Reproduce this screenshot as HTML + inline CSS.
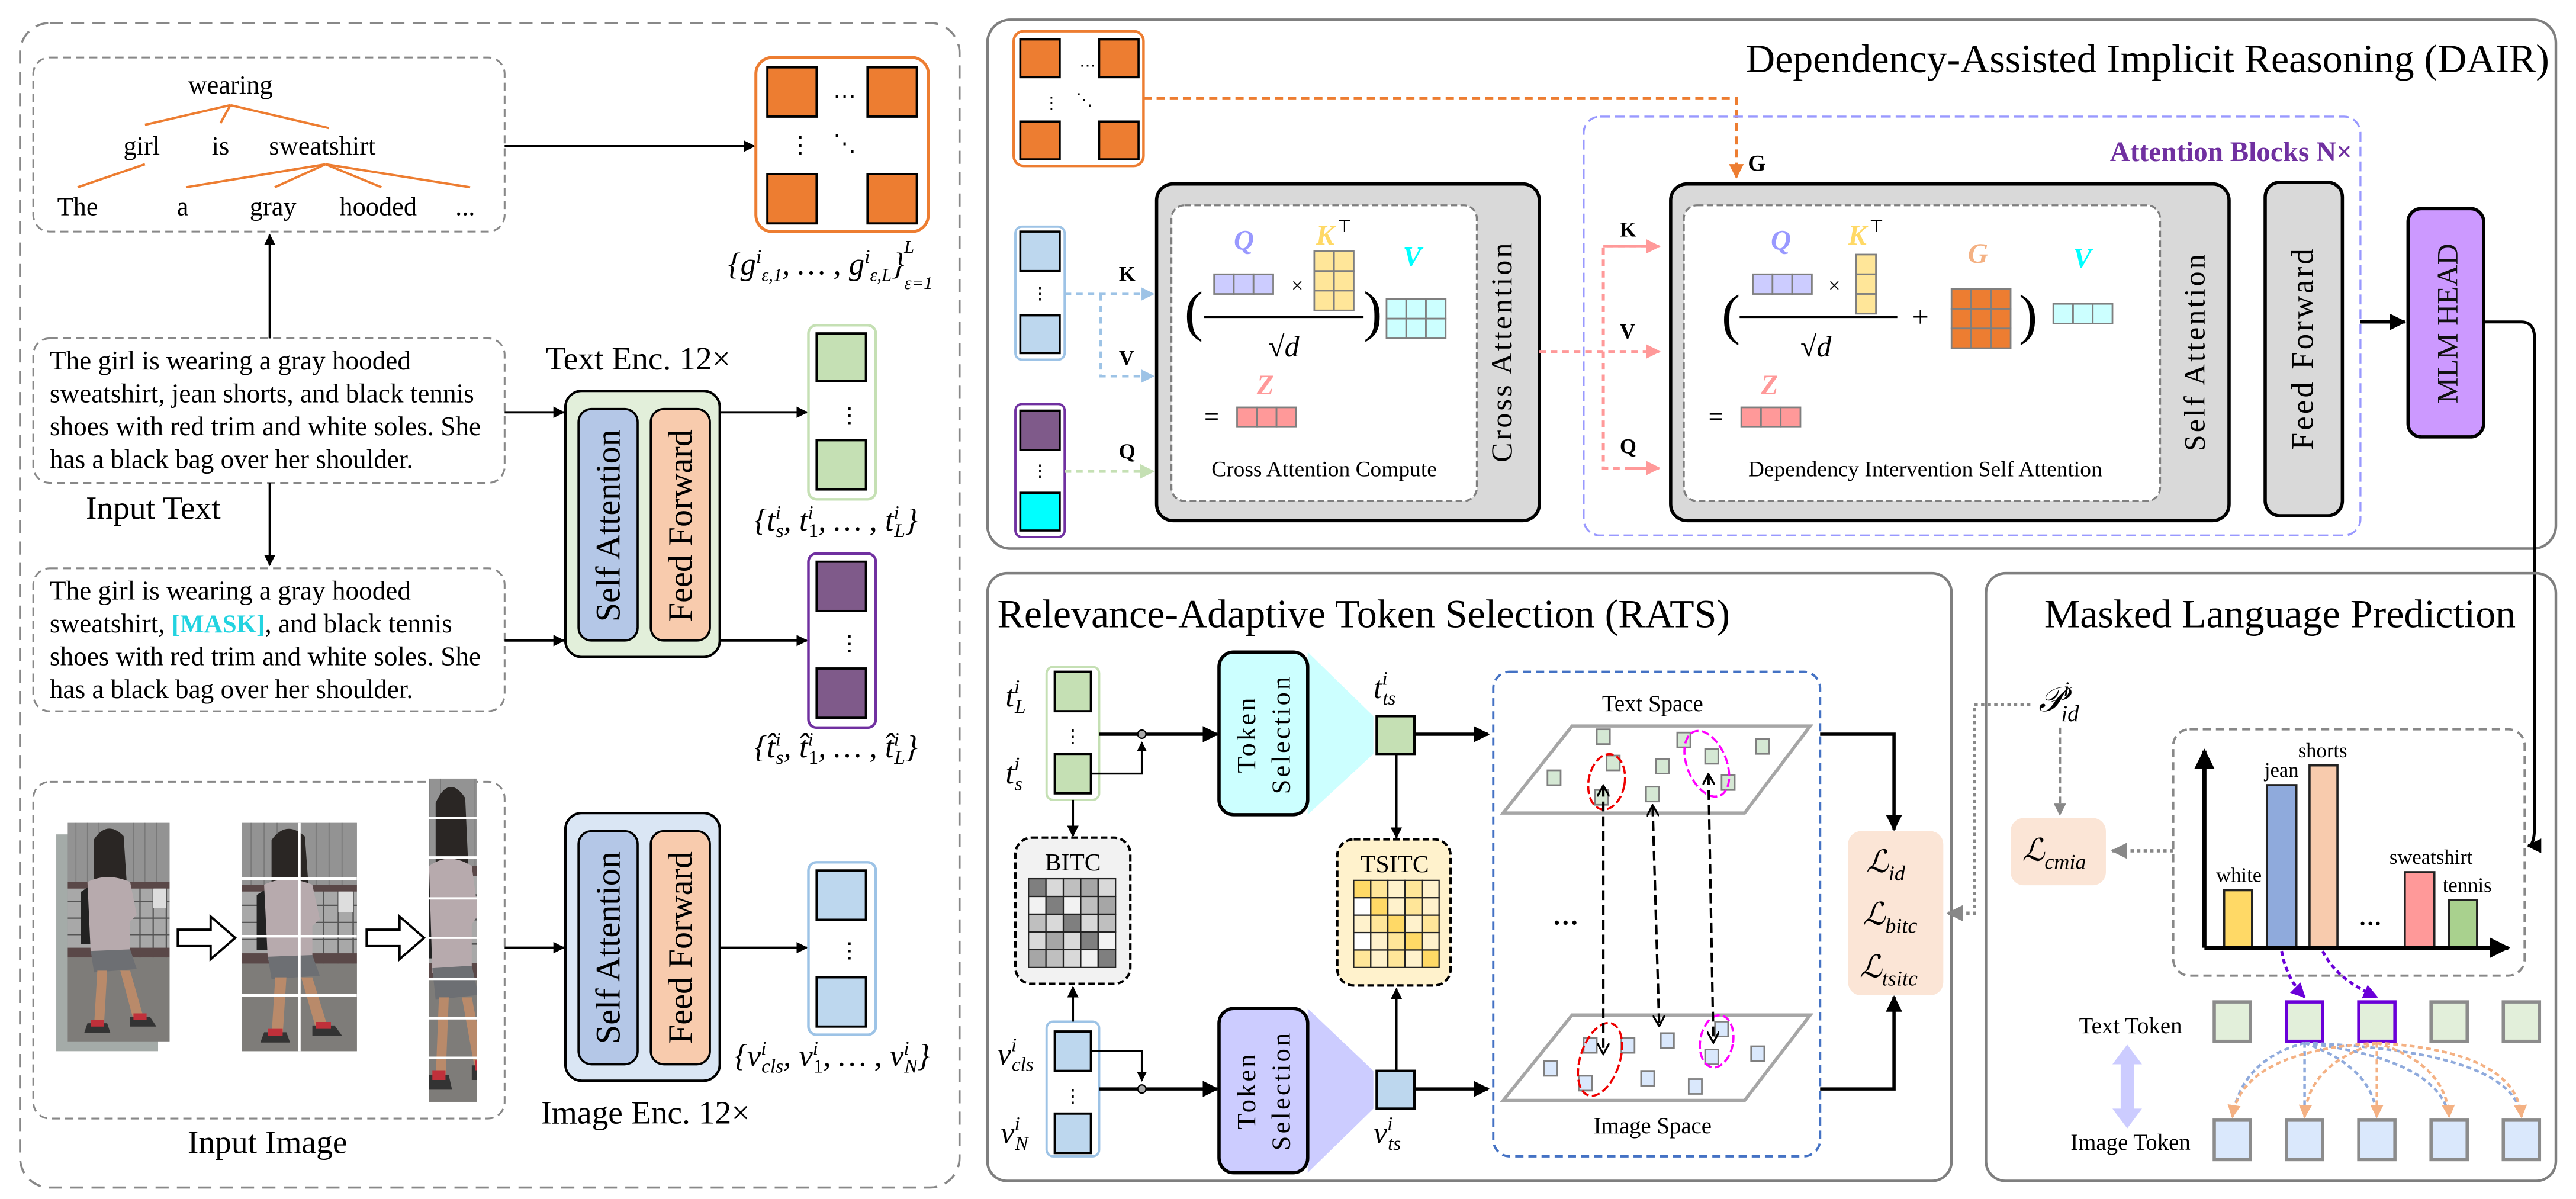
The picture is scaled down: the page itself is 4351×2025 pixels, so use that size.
<!DOCTYPE html>
<html><head><meta charset="utf-8"><style>
html,body{margin:0;padding:0;background:#fff;}
svg{display:block;}
text{font-family:"Liberation Serif",serif;}
</style></head><body>
<svg width="4351" height="2025" viewBox="0 0 1568 730" xmlns="http://www.w3.org/2000/svg">
<defs>
<marker id="ab" viewBox="0 0 10 10" refX="9" refY="5" markerWidth="5" markerHeight="5" orient="auto-start-reverse"><path d="M0,0L10,5L0,10z" fill="#000"/></marker>
<marker id="ao" viewBox="0 0 10 10" refX="9" refY="5" markerWidth="5" markerHeight="5" orient="auto"><path d="M0,0L10,5L0,10z" fill="#ed7d31"/></marker>
<marker id="abl" viewBox="0 0 10 10" refX="9" refY="5" markerWidth="5" markerHeight="5" orient="auto"><path d="M0,0L10,5L0,10z" fill="#9dc3e6"/></marker>
<marker id="agr" viewBox="0 0 10 10" refX="9" refY="5" markerWidth="5" markerHeight="5" orient="auto"><path d="M0,0L10,5L0,10z" fill="#c5e0b4"/></marker>
<marker id="apk" viewBox="0 0 10 10" refX="9" refY="5" markerWidth="5" markerHeight="5" orient="auto"><path d="M0,0L10,5L0,10z" fill="#ff9999"/></marker>
<marker id="agy" viewBox="0 0 10 10" refX="9" refY="5" markerWidth="5" markerHeight="5" orient="auto"><path d="M0,0L10,5L0,10z" fill="#888"/></marker>
<marker id="apu" viewBox="0 0 10 10" refX="9" refY="5" markerWidth="5" markerHeight="5" orient="auto"><path d="M0,0L10,5L0,10z" fill="#6a00d8"/></marker>
<marker id="aob" viewBox="0 0 10 10" refX="9" refY="5" markerWidth="5" markerHeight="5" orient="auto"><path d="M0,0L10,5L0,10z" fill="#f4b183"/></marker>
<marker id="av" viewBox="0 0 10 10" refX="8" refY="5" markerWidth="5" markerHeight="5" orient="auto-start-reverse"><path d="M0,0L9,5L0,10" fill="none" stroke="#000" stroke-width="1.6"/></marker>
<g id="person">
<rect x="0" y="0" width="62" height="133" fill="#8a8a8a"/>
<rect x="0" y="0" width="62" height="38" fill="#939393"/>
<g stroke="#7a7a7a" stroke-width="0.6"><line x1="5" y1="0" x2="5" y2="38"/><line x1="12" y1="0" x2="12" y2="38"/><line x1="19" y1="0" x2="19" y2="38"/><line x1="40" y1="0" x2="40" y2="38"/><line x1="47" y1="0" x2="47" y2="38"/><line x1="54" y1="0" x2="54" y2="38"/></g>
<rect x="0" y="38" width="62" height="44" fill="#a8a8a8"/>
<g stroke="#555" stroke-width="0.8"><line x1="0" y1="48" x2="62" y2="48"/><line x1="0" y1="58" x2="62" y2="58"/><line x1="0" y1="68" x2="62" y2="68"/><line x1="36" y1="38" x2="36" y2="82"/><line x1="44" y1="38" x2="44" y2="82"/><line x1="52" y1="38" x2="52" y2="82"/><line x1="60" y1="38" x2="60" y2="82"/></g>
<rect x="0" y="36" width="62" height="4" fill="#5a4848"/>
<rect x="0" y="76" width="62" height="6" fill="#5a4848"/>
<rect x="0" y="82" width="62" height="51" fill="#7e7c79"/>
<path d="M16,10 q8,-12 18,-2 l2,30 l-20,4 z" fill="#2a2624"/>
<path d="M8,42 l6,-4 l2,36 l-8,0 z" fill="#222"/>
<path d="M12,36 q12,-6 26,0 l4,20 l-4,4 l0,18 l-24,2 z" fill="#b7aaad"/>
<path d="M14,78 l24,-1 l4,12 l-26,2 z" fill="#6d6f73"/>
<path d="M18,90 l6,0 l-2,34 l-6,0 z" fill="#b98a6a"/>
<path d="M32,90 l6,0 l8,28 l-6,2 z" fill="#b98a6a"/>
<path d="M12,122 l12,0 l2,6 l-16,0 z" fill="#333"/><path d="M14,120 l8,0 l0,4 l-8,0z" fill="#c0303a"/>
<path d="M38,118 l12,0 l4,6 l-16,0 z" fill="#333"/><path d="M40,116 l8,0 l0,4 l-8,0z" fill="#c0303a"/>
<rect x="52" y="40" width="8" height="12" fill="#ddd"/>
</g>
<clipPath id="c3"><rect x="0" y="0" width="29" height="197"/></clipPath>
</defs>

<!-- ============ LEFT PANEL ============ -->
<rect x="12" y="14" width="572" height="709" rx="18" fill="none" stroke="#888" stroke-width="1.3" stroke-dasharray="8,5"/>
<rect x="20" y="35" width="287" height="106" rx="10" fill="none" stroke="#888" stroke-width="1.1" stroke-dasharray="5,3"/>
<g stroke="#ed7d31" stroke-width="1.4" fill="none">
<path d="M140,64L88,76M140,64L134,75M140,64L200,78M88,100L47,114M198,100L113,114M198,100L167,114M198,100L232,114M198,100L286,114"/>
</g>
<g font-size="16" text-anchor="middle" fill="#000">
<text x="140" y="57">wearing</text>
<text x="86" y="94">girl</text><text x="134" y="94">is</text><text x="196" y="94">sweatshirt</text>
<text x="47" y="131">The</text><text x="111" y="131">a</text><text x="166" y="131">gray</text><text x="230" y="131">hooded</text><text x="283" y="131">...</text>
</g>
<line x1="307" y1="89" x2="459" y2="89" stroke="#000" stroke-width="1.4" marker-end="url(#ab)"/>
<rect x="460" y="35" width="105" height="106" rx="10" fill="none" stroke="#ed7d31" stroke-width="1.8"/>
<g fill="#ed7d31" stroke="#000" stroke-width="1.4">
<rect x="467" y="41" width="30" height="30"/><rect x="528" y="41" width="30" height="30"/>
<rect x="467" y="106" width="30" height="30"/><rect x="528" y="106" width="30" height="30"/>
</g>
<text x="514" y="63" font-size="14" text-anchor="middle">⋯</text>
<text x="487" y="93" font-size="14" text-anchor="middle">⋮</text>
<text x="514" y="92" font-size="14" text-anchor="middle">⋱</text>
<text x="443" y="167" font-size="19" font-style="italic">{<tspan>g</tspan><tspan font-size="12" dy="-7">i</tspan><tspan font-size="11" dy="11">ε,1</tspan><tspan dy="-4">, … , g</tspan><tspan font-size="12" dy="-7">i</tspan><tspan font-size="11" dy="11">ε,L</tspan><tspan dy="-4">}</tspan><tspan font-size="11" dy="-13">L</tspan><tspan font-size="11" dx="-6" dy="22">ε=1</tspan></text>

<line x1="164" y1="206" x2="164" y2="143" stroke="#000" stroke-width="1.4" marker-end="url(#ab)"/>
<rect x="20" y="206" width="287" height="88" rx="10" fill="none" stroke="#888" stroke-width="1.1" stroke-dasharray="5,3"/>
<g font-size="16.3">
<text x="30" y="225">The girl is wearing a gray hooded</text>
<text x="30" y="245">sweatshirt, jean shorts, and black tennis</text>
<text x="30" y="265">shoes with red trim and white soles. She</text>
<text x="30" y="285">has a black bag over her shoulder.</text>
</g>
<text x="52" y="316" font-size="20">Input Text</text>
<line x1="164" y1="294" x2="164" y2="344" stroke="#000" stroke-width="1.4" marker-end="url(#ab)"/>
<rect x="20" y="346" width="287" height="87" rx="10" fill="none" stroke="#888" stroke-width="1.1" stroke-dasharray="5,3"/>
<g font-size="16.3">
<text x="30" y="365">The girl is wearing a gray hooded</text>
<text x="30" y="385">sweatshirt, <tspan fill="#22d3e0" font-weight="bold" font-size="15.5">[MASK]</tspan>, and black tennis</text>
<text x="30" y="405">shoes with red trim and white soles. She</text>
<text x="30" y="425">has a black bag over her shoulder.</text>
</g>

<text x="332" y="225" font-size="20">Text Enc. 12×</text>
<rect x="344" y="238" width="94" height="162" rx="10" fill="#e2efda" stroke="#000" stroke-width="1.5"/>
<rect x="352" y="249" width="36" height="141" rx="8" fill="#b4c7e7" stroke="#000" stroke-width="1.3"/>
<rect x="396" y="249" width="36" height="141" rx="8" fill="#f8cbad" stroke="#000" stroke-width="1.3"/>
<text transform="translate(377,320) rotate(-90)" font-size="21" text-anchor="middle">Self Attention</text>
<text transform="translate(421,320) rotate(-90)" font-size="21" text-anchor="middle">Feed Forward</text>
<line x1="307" y1="251" x2="343" y2="251" stroke="#000" stroke-width="1.4" marker-end="url(#ab)"/>
<line x1="307" y1="390" x2="343" y2="390" stroke="#000" stroke-width="1.4" marker-end="url(#ab)"/>
<line x1="438" y1="251" x2="491" y2="251" stroke="#000" stroke-width="1.4" marker-end="url(#ab)"/>
<line x1="438" y1="390" x2="491" y2="390" stroke="#000" stroke-width="1.4" marker-end="url(#ab)"/>

<rect x="492" y="198" width="41" height="106" rx="5" fill="#fff" stroke="#c5e0b4" stroke-width="1.6"/>
<rect x="497" y="203" width="30" height="29" fill="#c5e0b4" stroke="#000" stroke-width="1.4"/>
<rect x="497" y="268" width="30" height="30" fill="#c5e0b4" stroke="#000" stroke-width="1.4"/>
<text x="517" y="257" font-size="13" text-anchor="middle">⋮</text>
<text x="459" y="323" font-size="19" font-style="italic">{t<tspan font-size="12" dy="-7">i</tspan><tspan font-size="12" dx="-3" dy="11">s</tspan><tspan dy="-4">, t</tspan><tspan font-size="12" dy="-7">i</tspan><tspan font-size="12" font-style="normal" dx="-3" dy="11">1</tspan><tspan dy="-4">, … , t</tspan><tspan font-size="12" dy="-7">i</tspan><tspan font-size="12" dx="-3" dy="11">L</tspan><tspan dy="-4">}</tspan></text>

<rect x="492" y="337" width="41" height="106" rx="5" fill="#fff" stroke="#7030a0" stroke-width="1.6"/>
<rect x="497" y="342" width="30" height="30" fill="#7f5a8a" stroke="#000" stroke-width="1.4"/>
<rect x="497" y="407" width="30" height="30" fill="#7f5a8a" stroke="#000" stroke-width="1.4"/>
<text x="517" y="396" font-size="13" text-anchor="middle">⋮</text>
<text x="459" y="461" font-size="19" font-style="italic">{t̂<tspan font-size="12" dy="-7">i</tspan><tspan font-size="12" dx="-3" dy="11">s</tspan><tspan dy="-4">, t̂</tspan><tspan font-size="12" dy="-7">i</tspan><tspan font-size="12" font-style="normal" dx="-3" dy="11">1</tspan><tspan dy="-4">, … , t̂</tspan><tspan font-size="12" dy="-7">i</tspan><tspan font-size="12" dx="-3" dy="11">L</tspan><tspan dy="-4">}</tspan></text>

<!-- image box -->
<rect x="20" y="476" width="287" height="205" rx="10" fill="none" stroke="#888" stroke-width="1.1" stroke-dasharray="5,3"/>
<rect x="34" y="508" width="62" height="132" fill="#a4aba8"/>
<use href="#person" transform="translate(41,501)"/>
<use href="#person" transform="translate(147,501) scale(1.13,1.045)"/>
<g stroke="#fff" stroke-width="1.6"><line x1="182" y1="501" x2="182" y2="640"/><line x1="147" y1="535" x2="217" y2="535"/><line x1="147" y1="570" x2="217" y2="570"/><line x1="147" y1="606" x2="217" y2="606"/></g>
<g transform="translate(261,474)"><g clip-path="url(#c3)"><use href="#person" transform="translate(-12,0) scale(1,1.48)"/></g></g>
<g stroke="#fff" stroke-width="1.4"><line x1="261" y1="498" x2="290" y2="498"/><line x1="261" y1="522" x2="290" y2="522"/><line x1="261" y1="547" x2="290" y2="547"/><line x1="261" y1="571" x2="290" y2="571"/><line x1="261" y1="596" x2="290" y2="596"/><line x1="261" y1="620" x2="290" y2="620"/><line x1="261" y1="644" x2="290" y2="644"/></g>
<path d="M108,566h20v-8l15,13l-15,13v-8h-20z" fill="#fff" stroke="#000" stroke-width="1.4"/>
<path d="M223,566h20v-8l15,13l-15,13v-8h-20z" fill="#fff" stroke="#000" stroke-width="1.4"/>
<text x="114" y="702" font-size="20">Input Image</text>

<rect x="344" y="495" width="94" height="163" rx="10" fill="#dae6f4" stroke="#000" stroke-width="1.5"/>
<rect x="352" y="506" width="36" height="142" rx="8" fill="#b4c7e7" stroke="#000" stroke-width="1.3"/>
<rect x="396" y="506" width="36" height="142" rx="8" fill="#f8cbad" stroke="#000" stroke-width="1.3"/>
<text transform="translate(377,577) rotate(-90)" font-size="21" text-anchor="middle">Self Attention</text>
<text transform="translate(421,577) rotate(-90)" font-size="21" text-anchor="middle">Feed Forward</text>
<line x1="307" y1="577" x2="343" y2="577" stroke="#000" stroke-width="1.4" marker-end="url(#ab)"/>
<line x1="438" y1="577" x2="491" y2="577" stroke="#000" stroke-width="1.4" marker-end="url(#ab)"/>
<text x="329" y="684" font-size="20">Image Enc. 12×</text>
<rect x="492" y="525" width="41" height="105" rx="5" fill="#fff" stroke="#9dc3e6" stroke-width="1.6"/>
<rect x="497" y="530" width="30" height="30" fill="#bdd7ee" stroke="#000" stroke-width="1.4"/>
<rect x="497" y="595" width="30" height="30" fill="#bdd7ee" stroke="#000" stroke-width="1.4"/>
<text x="517" y="583" font-size="13" text-anchor="middle">⋮</text>
<text x="447" y="649" font-size="19" font-style="italic">{v<tspan font-size="12" dy="-7">i</tspan><tspan font-size="12" dx="-3" dy="11">cls</tspan><tspan dy="-4">, v</tspan><tspan font-size="12" dy="-7">i</tspan><tspan font-size="12" font-style="normal" dx="-3" dy="11">1</tspan><tspan dy="-4">, … , v</tspan><tspan font-size="12" dy="-7">i</tspan><tspan font-size="12" dx="-3" dy="11">N</tspan><tspan dy="-4">}</tspan></text>

<!-- ============ DAIR ============ -->
<rect x="601" y="12" width="955" height="322" rx="14" fill="none" stroke="#7f7f7f" stroke-width="1.6"/>
<text x="1552" y="44" font-size="24.5" text-anchor="end">Dependency-Assisted Implicit Reasoning (DAIR)</text>
<rect x="617" y="19" width="79" height="82" rx="6" fill="#fff" stroke="#ed7d31" stroke-width="1.6"/>
<g fill="#ed7d31" stroke="#000" stroke-width="1.3">
<rect x="621" y="24" width="24" height="23"/><rect x="669" y="24" width="24" height="23"/>
<rect x="621" y="74" width="24" height="23"/><rect x="669" y="74" width="24" height="23"/>
</g>
<text x="657" y="43" font-size="10">⋯</text><text x="635" y="66" font-size="10">⋮</text><text x="655" y="64" font-size="10">⋱</text>
<path d="M696,60H1057V108" fill="none" stroke="#ed7d31" stroke-width="1.8" stroke-dasharray="5,3" marker-end="url(#ao)"/>
<text x="1064" y="104" font-size="14" font-weight="bold">G</text>
<rect x="964" y="71" width="473" height="255" rx="10" fill="none" stroke="#9999ff" stroke-width="1.2" stroke-dasharray="6,3"/>
<text x="1432" y="98" font-size="17" font-weight="bold" fill="#7030a0" text-anchor="end">Attention Blocks N×</text>

<rect x="618" y="138" width="30" height="81" rx="4" fill="#fff" stroke="#9dc3e6" stroke-width="1.4"/>
<rect x="621" y="141" width="24" height="24" fill="#bdd7ee" stroke="#000" stroke-width="1.3"/>
<rect x="621" y="192" width="24" height="23" fill="#bdd7ee" stroke="#000" stroke-width="1.3"/>
<text x="633" y="182" font-size="10" text-anchor="middle">⋮</text>
<rect x="618" y="246" width="30" height="81" rx="4" fill="#fff" stroke="#7030a0" stroke-width="1.4"/>
<rect x="621" y="250" width="24" height="24" fill="#7f5a8a" stroke="#000" stroke-width="1.3"/>
<rect x="621" y="300" width="24" height="23" fill="#00ffff" stroke="#000" stroke-width="1.3"/>
<text x="633" y="290" font-size="10" text-anchor="middle">⋮</text>
<text x="681" y="171" font-size="13" font-weight="bold">K</text>
<text x="681" y="222" font-size="13" font-weight="bold">V</text>
<text x="681" y="279" font-size="13" font-weight="bold">Q</text>
<path d="M648,179H702" fill="none" stroke="#9dc3e6" stroke-width="1.6" stroke-dasharray="4,3" marker-end="url(#abl)"/>
<path d="M670,179V229H702" fill="none" stroke="#9dc3e6" stroke-width="1.6" stroke-dasharray="4,3" marker-end="url(#abl)"/>
<path d="M648,287H702" fill="none" stroke="#c5e0b4" stroke-width="1.8" stroke-dasharray="4,3" marker-end="url(#agr)"/>

<rect x="704" y="112" width="233" height="205" rx="10" fill="#d9d9d9" stroke="#000" stroke-width="2"/>
<rect x="713" y="125" width="186" height="180" rx="8" fill="#fff" stroke="#7f7f7f" stroke-width="1.2" stroke-dasharray="4,2"/>
<text transform="translate(920,214) rotate(-90)" font-size="18" letter-spacing="1.5" text-anchor="middle">Cross Attention</text>
<g font-style="italic" font-weight="bold" font-size="17">
<text x="751" y="152" fill="#9999ff">Q</text><text x="801" y="149" fill="#ffd966">K</text><text x="854" y="162" fill="#00ffff">V</text>
<text x="765" y="240" fill="#ff9999">Z</text>
</g>
<text x="814" y="141" font-size="10">⊤</text>
<g stroke="#7f7f7f" stroke-width="1">
<rect x="739" y="167" width="12" height="12" fill="#ccccff"/><rect x="751" y="167" width="12" height="12" fill="#ccccff"/><rect x="763" y="167" width="12" height="12" fill="#ccccff"/>
<rect x="800" y="153" width="12" height="12" fill="#ffe699"/><rect x="812" y="153" width="12" height="12" fill="#ffe699"/><rect x="800" y="165" width="12" height="12" fill="#ffe699"/><rect x="812" y="165" width="12" height="12" fill="#ffe699"/><rect x="800" y="177" width="12" height="12" fill="#ffe699"/><rect x="812" y="177" width="12" height="12" fill="#ffe699"/>
<rect x="844" y="182" width="12" height="12" fill="#ccffff"/><rect x="856" y="182" width="12" height="12" fill="#ccffff"/><rect x="868" y="182" width="12" height="12" fill="#ccffff"/><rect x="844" y="194" width="12" height="12" fill="#ccffff"/><rect x="856" y="194" width="12" height="12" fill="#ccffff"/><rect x="868" y="194" width="12" height="12" fill="#ccffff"/>
<rect x="753" y="248" width="12" height="12" fill="#ff9999"/><rect x="765" y="248" width="12" height="12" fill="#ff9999"/><rect x="777" y="248" width="12" height="12" fill="#ff9999"/>
</g>
<text x="786" y="178" font-size="13">×</text>
<text x="721" y="201" font-size="34">(</text><text x="830" y="201" font-size="34">)</text>
<line x1="733" y1="193" x2="830" y2="193" stroke="#000" stroke-width="1.3"/>
<text x="772" y="217" font-size="18">√<tspan font-style="italic">d</tspan></text>
<text x="733" y="259" font-size="16" font-weight="bold">=</text>
<text x="806" y="290" font-size="13.5" text-anchor="middle">Cross Attention Compute</text>

<path d="M937,214H1010" fill="none" stroke="#ff9999" stroke-width="1.8" stroke-dasharray="4,3" marker-end="url(#apk)"/>
<path d="M1010,150H976V285H1010" fill="none" stroke="#ff9999" stroke-width="1.8" stroke-dasharray="4,3"/>
<path d="M976,150H1010" fill="none" stroke="#ff9999" stroke-width="1.8" marker-end="url(#apk)"/>
<path d="M990,285H1010" fill="none" stroke="#ff9999" stroke-width="1.8" marker-end="url(#apk)"/>
<text x="986" y="144" font-size="13" font-weight="bold">K</text>
<text x="986" y="206" font-size="13" font-weight="bold">V</text>
<text x="986" y="276" font-size="13" font-weight="bold">Q</text>

<rect x="1017" y="112" width="340" height="205" rx="10" fill="#d9d9d9" stroke="#000" stroke-width="2"/>
<rect x="1025" y="125" width="290" height="180" rx="8" fill="#fff" stroke="#7f7f7f" stroke-width="1.2" stroke-dasharray="4,2"/>
<text transform="translate(1342,214) rotate(-90)" font-size="18" letter-spacing="1.5" text-anchor="middle">Self Attention</text>
<g font-style="italic" font-weight="bold" font-size="17">
<text x="1078" y="152" fill="#9999ff">Q</text><text x="1125" y="149" fill="#ffd966">K</text><text x="1198" y="160" fill="#f4b183">G</text><text x="1262" y="163" fill="#00ffff">V</text>
<text x="1072" y="240" fill="#ff9999">Z</text>
</g>
<text x="1138" y="141" font-size="10">⊤</text>
<g stroke="#7f7f7f" stroke-width="1">
<rect x="1067" y="167" width="12" height="12" fill="#ccccff"/><rect x="1079" y="167" width="12" height="12" fill="#ccccff"/><rect x="1091" y="167" width="12" height="12" fill="#ccccff"/>
<rect x="1130" y="155" width="12" height="12" fill="#ffe699"/><rect x="1130" y="167" width="12" height="12" fill="#ffe699"/><rect x="1130" y="179" width="12" height="12" fill="#ffe699"/>
<rect x="1188" y="176" width="12" height="12" fill="#ed7d31"/><rect x="1200" y="176" width="12" height="12" fill="#ed7d31"/><rect x="1212" y="176" width="12" height="12" fill="#ed7d31"/>
<rect x="1188" y="188" width="12" height="12" fill="#ed7d31"/><rect x="1200" y="188" width="12" height="12" fill="#ed7d31"/><rect x="1212" y="188" width="12" height="12" fill="#ed7d31"/>
<rect x="1188" y="200" width="12" height="12" fill="#ed7d31"/><rect x="1200" y="200" width="12" height="12" fill="#ed7d31"/><rect x="1212" y="200" width="12" height="12" fill="#ed7d31"/>
<rect x="1250" y="185" width="12" height="12" fill="#ccffff"/><rect x="1262" y="185" width="12" height="12" fill="#ccffff"/><rect x="1274" y="185" width="12" height="12" fill="#ccffff"/>
<rect x="1060" y="248" width="12" height="12" fill="#ff9999"/><rect x="1072" y="248" width="12" height="12" fill="#ff9999"/><rect x="1084" y="248" width="12" height="12" fill="#ff9999"/>
</g>
<text x="1113" y="178" font-size="13">×</text>
<text x="1048" y="203" font-size="34">(</text><text x="1229" y="203" font-size="34">)</text>
<line x1="1059" y1="193" x2="1155" y2="193" stroke="#000" stroke-width="1.3"/>
<text x="1096" y="217" font-size="18">√<tspan font-style="italic">d</tspan></text>
<text x="1164" y="199" font-size="18">+</text>
<text x="1040" y="259" font-size="16" font-weight="bold">=</text>
<text x="1172" y="290" font-size="13.5" text-anchor="middle">Dependency Intervention Self Attention</text>

<rect x="1379" y="111" width="47" height="203" rx="9" fill="#d9d9d9" stroke="#000" stroke-width="2"/>
<text transform="translate(1408,212) rotate(-90)" font-size="19" letter-spacing="1.5" text-anchor="middle">Feed Forward</text>
<line x1="1437" y1="196" x2="1464" y2="196" stroke="#000" stroke-width="2" marker-end="url(#ab)"/>
<rect x="1466" y="127" width="46" height="139" rx="8" fill="#cc99ff" stroke="#000" stroke-width="2"/>
<text transform="translate(1496,197) rotate(-90)" font-size="18" text-anchor="middle" fill="#111">MLM HEAD</text>
<path d="M1512,196H1535Q1543,196 1543,206V503Q1543,515 1539,515" fill="none" stroke="#000" stroke-width="1.8" marker-end="url(#ab)"/>

<!-- ============ RATS ============ -->
<rect x="601" y="349" width="587" height="370" rx="12" fill="none" stroke="#7f7f7f" stroke-width="1.6"/>
<text x="607" y="382" font-size="24.5">Relevance-Adaptive Token Selection (RATS)</text>

<rect x="637" y="406" width="32" height="81" rx="4" fill="#fff" stroke="#c5e0b4" stroke-width="1.4"/>
<rect x="642" y="409" width="22" height="24" fill="#c5e0b4" stroke="#000" stroke-width="1.4"/>
<rect x="642" y="459" width="22" height="24" fill="#c5e0b4" stroke="#000" stroke-width="1.4"/>
<text x="653" y="452" font-size="11" text-anchor="middle">⋮</text>
<text x="612" y="430" font-size="19" font-style="italic">t<tspan font-size="12" dy="-8">i</tspan><tspan font-size="12" dx="-3" dy="12">L</tspan></text>
<text x="612" y="477" font-size="19" font-style="italic">t<tspan font-size="12" dy="-8">i</tspan><tspan font-size="12" dx="-3" dy="12">s</tspan></text>
<line x1="669" y1="447" x2="741" y2="447" stroke="#000" stroke-width="2" marker-end="url(#ab)"/>
<path d="M664,471H695V452" fill="none" stroke="#000" stroke-width="1.2" marker-end="url(#ab)"/>
<circle cx="695" cy="447" r="2.5" fill="#aaa" stroke="#000" stroke-width="0.8"/>
<polygon points="796,397 836,436 836,459 796,496" fill="#ccffff"/>
<rect x="742" y="397" width="54" height="99" rx="9" fill="#ccffff" stroke="#000" stroke-width="2"/>
<text transform="translate(764,447) rotate(-90)" font-size="16" letter-spacing="1.5" text-anchor="middle">Token</text>
<text transform="translate(785,447) rotate(-90)" font-size="16" letter-spacing="1.5" text-anchor="middle">Selection</text>
<rect x="838" y="436" width="23" height="23" fill="#c5e0b4" stroke="#000" stroke-width="1.5"/>
<text x="836" y="425" font-size="19" font-style="italic">t<tspan font-size="12" dy="-8">i</tspan><tspan font-size="12" dx="-3" dy="12">ts</tspan></text>
<line x1="861" y1="447" x2="906" y2="447" stroke="#000" stroke-width="2" marker-end="url(#ab)"/>
<line x1="850" y1="459" x2="850" y2="510" stroke="#000" stroke-width="1.4" marker-end="url(#ab)"/>
<line x1="653" y1="487" x2="653" y2="509" stroke="#000" stroke-width="1.4" marker-end="url(#ab)"/>

<rect x="618" y="510" width="70" height="89" rx="10" fill="#f2f2f2" stroke="#000" stroke-width="1.5" stroke-dasharray="4,2"/>
<text x="653" y="530" font-size="15" text-anchor="middle">BITC</text>
<g stroke="#222" stroke-width="0.8">
<rect x="626" y="535" width="10.6" height="10.8" fill="#7f7f7f"/><rect x="636.6" y="535" width="10.6" height="10.8" fill="#d9d9d9"/><rect x="647.2" y="535" width="10.6" height="10.8" fill="#bfbfbf"/><rect x="657.8" y="535" width="10.6" height="10.8" fill="#a6a6a6"/><rect x="668.4" y="535" width="10.6" height="10.8" fill="#d9d9d9"/>
<rect x="626" y="545.8" width="10.6" height="10.8" fill="#f2f2f2"/><rect x="636.6" y="545.8" width="10.6" height="10.8" fill="#7f7f7f"/><rect x="647.2" y="545.8" width="10.6" height="10.8" fill="#f2f2f2"/><rect x="657.8" y="545.8" width="10.6" height="10.8" fill="#bfbfbf"/><rect x="668.4" y="545.8" width="10.6" height="10.8" fill="#a6a6a6"/>
<rect x="626" y="556.6" width="10.6" height="10.8" fill="#bfbfbf"/><rect x="636.6" y="556.6" width="10.6" height="10.8" fill="#d9d9d9"/><rect x="647.2" y="556.6" width="10.6" height="10.8" fill="#7f7f7f"/><rect x="657.8" y="556.6" width="10.6" height="10.8" fill="#d9d9d9"/><rect x="668.4" y="556.6" width="10.6" height="10.8" fill="#bfbfbf"/>
<rect x="626" y="567.4" width="10.6" height="10.8" fill="#d9d9d9"/><rect x="636.6" y="567.4" width="10.6" height="10.8" fill="#a6a6a6"/><rect x="647.2" y="567.4" width="10.6" height="10.8" fill="#d9d9d9"/><rect x="657.8" y="567.4" width="10.6" height="10.8" fill="#7f7f7f"/><rect x="668.4" y="567.4" width="10.6" height="10.8" fill="#f2f2f2"/>
<rect x="626" y="578.2" width="10.6" height="10.8" fill="#a6a6a6"/><rect x="636.6" y="578.2" width="10.6" height="10.8" fill="#bfbfbf"/><rect x="647.2" y="578.2" width="10.6" height="10.8" fill="#d9d9d9"/><rect x="657.8" y="578.2" width="10.6" height="10.8" fill="#f2f2f2"/><rect x="668.4" y="578.2" width="10.6" height="10.8" fill="#7f7f7f"/>
</g>
<rect x="814" y="511" width="69" height="89" rx="10" fill="#fff2cc" stroke="#000" stroke-width="1.5" stroke-dasharray="4,2"/>
<text x="849" y="531" font-size="15" text-anchor="middle">TSITC</text>
<g stroke="#222" stroke-width="0.8">
<rect x="824" y="536" width="10.4" height="10.6" fill="#ffd966"/><rect x="834.4" y="536" width="10.4" height="10.6" fill="#ffe699"/><rect x="844.8" y="536" width="10.4" height="10.6" fill="#fff2cc"/><rect x="855.2" y="536" width="10.4" height="10.6" fill="#ffe699"/><rect x="865.6" y="536" width="10.4" height="10.6" fill="#fff2cc"/>
<rect x="824" y="546.6" width="10.4" height="10.6" fill="#fff"/><rect x="834.4" y="546.6" width="10.4" height="10.6" fill="#ffd966"/><rect x="844.8" y="546.6" width="10.4" height="10.6" fill="#fff2cc"/><rect x="855.2" y="546.6" width="10.4" height="10.6" fill="#ffe699"/><rect x="865.6" y="546.6" width="10.4" height="10.6" fill="#fff2cc"/>
<rect x="824" y="557.2" width="10.4" height="10.6" fill="#fff2cc"/><rect x="834.4" y="557.2" width="10.4" height="10.6" fill="#ffe699"/><rect x="844.8" y="557.2" width="10.4" height="10.6" fill="#ffd966"/><rect x="855.2" y="557.2" width="10.4" height="10.6" fill="#fff2cc"/><rect x="865.6" y="557.2" width="10.4" height="10.6" fill="#ffe699"/>
<rect x="824" y="567.8" width="10.4" height="10.6" fill="#fff"/><rect x="834.4" y="567.8" width="10.4" height="10.6" fill="#fff2cc"/><rect x="844.8" y="567.8" width="10.4" height="10.6" fill="#ffe699"/><rect x="855.2" y="567.8" width="10.4" height="10.6" fill="#ffd966"/><rect x="865.6" y="567.8" width="10.4" height="10.6" fill="#fff2cc"/>
<rect x="824" y="578.4" width="10.4" height="10.6" fill="#ffe699"/><rect x="834.4" y="578.4" width="10.4" height="10.6" fill="#fff2cc"/><rect x="844.8" y="578.4" width="10.4" height="10.6" fill="#ffe699"/><rect x="855.2" y="578.4" width="10.4" height="10.6" fill="#fff2cc"/><rect x="865.6" y="578.4" width="10.4" height="10.6" fill="#ffd966"/>
</g>

<rect x="637" y="622" width="32" height="82" rx="4" fill="#fff" stroke="#9dc3e6" stroke-width="1.4"/>
<rect x="642" y="628" width="22" height="24" fill="#bdd7ee" stroke="#000" stroke-width="1.4"/>
<rect x="642" y="678" width="22" height="24" fill="#bdd7ee" stroke="#000" stroke-width="1.4"/>
<text x="653" y="671" font-size="11" text-anchor="middle">⋮</text>
<text x="607" y="648" font-size="19" font-style="italic">v<tspan font-size="12" dy="-8">i</tspan><tspan font-size="12" dx="-3" dy="12">cls</tspan></text>
<text x="609" y="696" font-size="19" font-style="italic">v<tspan font-size="12" dy="-8">i</tspan><tspan font-size="12" dx="-3" dy="12">N</tspan></text>
<line x1="653" y1="622" x2="653" y2="601" stroke="#000" stroke-width="1.4" marker-end="url(#ab)"/>
<line x1="669" y1="663" x2="741" y2="663" stroke="#000" stroke-width="2" marker-end="url(#ab)"/>
<path d="M664,640H695V658" fill="none" stroke="#000" stroke-width="1.2" marker-end="url(#ab)"/>
<circle cx="695" cy="663" r="2.5" fill="#aaa" stroke="#000" stroke-width="0.8"/>
<polygon points="796,614 836,652 836,675 796,714" fill="#ccccff"/>
<rect x="742" y="614" width="54" height="100" rx="9" fill="#ccccff" stroke="#000" stroke-width="2"/>
<text transform="translate(764,664) rotate(-90)" font-size="16" letter-spacing="1.5" text-anchor="middle">Token</text>
<text transform="translate(785,664) rotate(-90)" font-size="16" letter-spacing="1.5" text-anchor="middle">Selection</text>
<rect x="838" y="652" width="23" height="23" fill="#bdd7ee" stroke="#000" stroke-width="1.5"/>
<text x="836" y="696" font-size="19" font-style="italic">v<tspan font-size="12" dy="-8">i</tspan><tspan font-size="12" dx="-3" dy="12">ts</tspan></text>
<line x1="861" y1="663" x2="906" y2="663" stroke="#000" stroke-width="2" marker-end="url(#ab)"/>
<line x1="850" y1="652" x2="850" y2="602" stroke="#000" stroke-width="1.4" marker-end="url(#ab)"/>

<rect x="909" y="409" width="199" height="295" rx="10" fill="none" stroke="#4472c4" stroke-width="1.4" stroke-dasharray="5,3"/>
<text x="1006" y="433" font-size="14" text-anchor="middle">Text Space</text>
<polygon points="915,495 957,442 1102,442 1062,495" fill="#fff" stroke="#a6a6a6" stroke-width="2"/>
<g fill="#d5e8d4" stroke="#7f7f7f" stroke-width="1">
<rect x="972" y="444" width="8" height="9"/><rect x="1021" y="446" width="8" height="9"/><rect x="1069" y="450" width="8" height="9"/><rect x="978" y="460" width="8" height="9"/><rect x="1008" y="462" width="8" height="9"/><rect x="1038" y="456" width="8" height="9"/><rect x="942" y="469" width="8" height="9"/><rect x="1048" y="472" width="8" height="9"/><rect x="971" y="481" width="8" height="9"/><rect x="1002" y="479" width="8" height="9"/>
</g>
<ellipse cx="978" cy="476" rx="11" ry="17" fill="none" stroke="#e00" stroke-width="1.3" stroke-dasharray="5,2" transform="rotate(10,978,476)"/>
<ellipse cx="1039" cy="465" rx="12" ry="21" fill="none" stroke="#f0f" stroke-width="1.3" stroke-dasharray="5,2" transform="rotate(-22,1039,465)"/>
<text x="1006" y="690" font-size="14" text-anchor="middle">Image Space</text>
<polygon points="915,670 957,618 1102,618 1062,670" fill="#fff" stroke="#a6a6a6" stroke-width="2"/>
<g fill="#dae8fc" stroke="#7f7f7f" stroke-width="1">
<rect x="964" y="632" width="8" height="9"/><rect x="987" y="632" width="8" height="9"/><rect x="1011" y="629" width="8" height="9"/><rect x="940" y="646" width="8" height="9"/><rect x="961" y="655" width="8" height="9"/><rect x="999" y="652" width="8" height="9"/><rect x="1028" y="657" width="8" height="9"/><rect x="1038" y="639" width="8" height="9"/><rect x="1066" y="637" width="8" height="9"/><rect x="1044" y="622" width="8" height="9"/>
</g>
<ellipse cx="974" cy="645" rx="12" ry="23" fill="none" stroke="#e00" stroke-width="1.3" stroke-dasharray="5,2" transform="rotate(18,974,645)"/>
<ellipse cx="1045" cy="634" rx="10" ry="16" fill="none" stroke="#f0f" stroke-width="1.3" stroke-dasharray="5,2" transform="rotate(10,1045,634)"/>
<g stroke="#000" stroke-width="1.5" stroke-dasharray="6,3" fill="none" marker-start="url(#av)" marker-end="url(#av)">
<line x1="976" y1="479" x2="976" y2="641"/>
<line x1="1006" y1="491" x2="1010" y2="624"/>
<line x1="1040" y1="472" x2="1043" y2="634"/>
</g>
<text x="945" y="567" font-size="16" font-weight="bold">···</text>
<path d="M1108,447H1153V505" fill="none" stroke="#000" stroke-width="2" marker-end="url(#ab)"/>
<path d="M1108,663H1153V607" fill="none" stroke="#000" stroke-width="2" marker-end="url(#ab)"/>
<rect x="1125" y="506" width="58" height="100" rx="8" fill="#fbe5d6"/>
<g font-size="19" font-style="italic">
<text x="1136" y="531">ℒ<tspan font-size="13" dy="5">id</tspan></text>
<text x="1134" y="563">ℒ<tspan font-size="13" dy="5">bitc</tspan></text>
<text x="1132" y="595">ℒ<tspan font-size="13" dy="5">tsitc</tspan></text>
</g>

<!-- ============ MLP ============ -->
<rect x="1209" y="349" width="347" height="370" rx="12" fill="none" stroke="#7f7f7f" stroke-width="1.6"/>
<text x="1388" y="382" font-size="24.5" text-anchor="middle">Masked Language Prediction</text>
<text x="1241" y="433" font-size="21" font-style="italic">𝒫<tspan font-size="13" dy="-9">i</tspan><tspan font-size="14" dx="-5" dy="15">id</tspan></text>
<path d="M1236,429H1202V556H1186" fill="none" stroke="#888" stroke-width="2" stroke-dasharray="2,2" marker-end="url(#agy)"/>
<path d="M1254,443V496" fill="none" stroke="#888" stroke-width="1.5" stroke-dasharray="4,2" marker-end="url(#agy)"/>
<rect x="1224" y="498" width="58" height="41" rx="8" fill="#fbe5d6"/>
<text x="1231" y="524" font-size="19" font-style="italic">ℒ<tspan font-size="13" dy="5">cmia</tspan></text>
<path d="M1323,518H1286" fill="none" stroke="#888" stroke-width="2" stroke-dasharray="2,2" marker-end="url(#agy)"/>
<rect x="1323" y="444" width="214" height="150" rx="10" fill="none" stroke="#888" stroke-width="1.4" stroke-dasharray="5,3"/>
<g stroke="#222" stroke-width="1.3">
<rect x="1354" y="542" width="17" height="35" fill="#ffd966"/>
<rect x="1380" y="478" width="18" height="99" fill="#8faadc"/>
<rect x="1406" y="466" width="17" height="111" fill="#f8cbad"/>
<rect x="1464" y="531" width="18" height="46" fill="#ff9999"/>
<rect x="1491" y="548" width="17" height="29" fill="#a9d18e"/>
</g>
<line x1="1342" y1="577" x2="1342" y2="457" stroke="#000" stroke-width="2.5" marker-end="url(#ab)"/>
<line x1="1342" y1="577" x2="1527" y2="577" stroke="#000" stroke-width="2.5" marker-end="url(#ab)"/>
<g font-size="12.5" text-anchor="middle">
<text x="1363" y="537">white</text><text x="1389" y="473">jean</text><text x="1414" y="461">shorts</text><text x="1480" y="526">sweatshirt</text><text x="1502" y="543">tennis</text>
</g>
<text x="1436" y="567" font-size="14" font-weight="bold">···</text>
<path d="M1389,579Q1392,596 1403,607" fill="none" stroke="#6a00d8" stroke-width="1.8" stroke-dasharray="3,2" marker-end="url(#apu)"/>
<path d="M1414,579Q1422,596 1447,607" fill="none" stroke="#6a00d8" stroke-width="1.8" stroke-dasharray="3,2" marker-end="url(#apu)"/>
<g stroke-width="2">
<rect x="1348" y="610" width="22" height="24" fill="#e2efda" stroke="#8c8c8c"/>
<rect x="1392" y="610" width="22" height="24" fill="#e2efda" stroke="#6a00d8"/>
<rect x="1436" y="610" width="22" height="24" fill="#e2efda" stroke="#6a00d8"/>
<rect x="1480" y="610" width="22" height="24" fill="#e2efda" stroke="#8c8c8c"/>
<rect x="1524" y="610" width="22" height="24" fill="#e2efda" stroke="#8c8c8c"/>
<rect x="1348" y="682" width="22" height="24" fill="#dae8fc" stroke="#8c8c8c"/>
<rect x="1392" y="682" width="22" height="24" fill="#dae8fc" stroke="#8c8c8c"/>
<rect x="1436" y="682" width="22" height="24" fill="#dae8fc" stroke="#8c8c8c"/>
<rect x="1480" y="682" width="22" height="24" fill="#dae8fc" stroke="#8c8c8c"/>
<rect x="1524" y="682" width="22" height="24" fill="#dae8fc" stroke="#8c8c8c"/>
</g>
<g fill="none" stroke="#8faadc" stroke-width="1.6" stroke-dasharray="3,2">
<path d="M1403,635Q1365,645 1359,680"/><path d="M1403,635Q1403,655 1403,680"/><path d="M1403,635Q1445,650 1447,680"/><path d="M1403,635Q1485,645 1491,680"/><path d="M1403,635Q1530,640 1535,680"/>
</g>
<g fill="none" stroke="#f4b183" stroke-width="1.6" stroke-dasharray="3,2">
<path d="M1447,635Q1365,640 1359,680" marker-end="url(#aob)"/><path d="M1447,635Q1405,648 1403,680" marker-end="url(#aob)"/><path d="M1447,635Q1447,655 1447,680" marker-end="url(#aob)"/><path d="M1447,635Q1489,648 1491,680" marker-end="url(#aob)"/><path d="M1447,635Q1532,640 1535,680" marker-end="url(#aob)"/>
</g>
<text x="1297" y="629" font-size="14" text-anchor="middle">Text Token</text>
<text x="1297" y="700" font-size="14" text-anchor="middle">Image Token</text>
<path d="M1295,636l-9,12h5v27h-5l9,12l9,-12h-5v-27h5z" fill="#ccccff"/>
</svg>
</body></html>
